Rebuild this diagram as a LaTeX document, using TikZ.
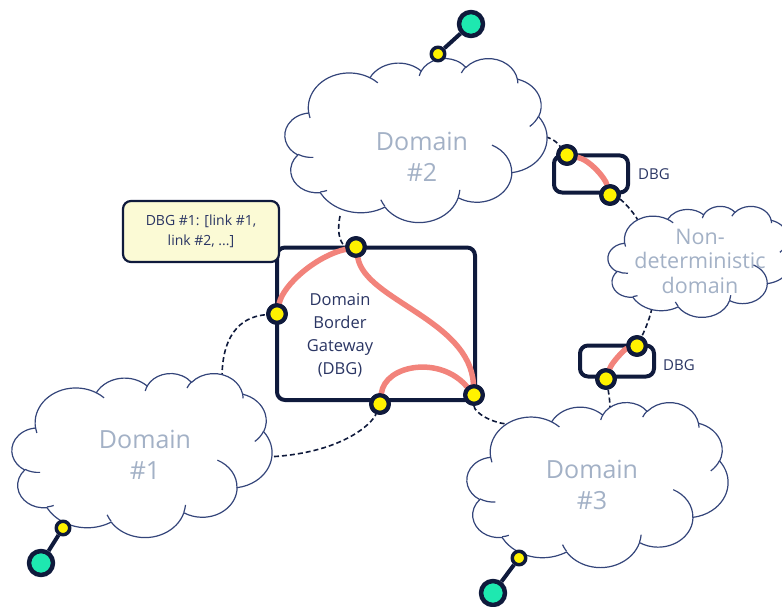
\documentclass[tikz,border=0pt]{standalone}
\usepackage{fontspec}
\setmainfont{Open Sans}
\usetikzlibrary{positioning}

\definecolor{navy}{HTML}{0F1A3C}
\definecolor{boxtext}{HTML}{2A3563}
\definecolor{dbgred}{HTML}{F2837B}
\definecolor{portyellow}{HTML}{FFF200}
\definecolor{endteal}{HTML}{1EE8B0}
\definecolor{cloudline}{HTML}{34457A}
\definecolor{cloudtext}{HTML}{A3B1C6}
\definecolor{notefill}{HTML}{FBFAD5}

% cloud outline on a 432 x 432 grid, stretched to the box given
\newcommand{\drawcloud}[3]{%
  \begin{scope}[shift={#1}, xscale=#2/432, yscale=#3/432]
    \draw[cloudedge, fill=white] (39.00,143.70)
      \foreach \rx/\ry/\st/\sw [evaluate=\st as \ta using {atan2(\rx*sin(\st),\ry*cos(\st))},
          evaluate=\st as \da using {mod(atan2(\rx*sin(\st+\sw),\ry*cos(\st+\sw))-atan2(\rx*sin(\st),\ry*cos(\st))+720,360)}]
        in {67.53/91.90/-190.4875/123.7805, 53.33/72.67/-144.1024/89.9452,
            43.65/59.45/-145.8079/99.7230, 48.57/65.95/-130.9861/117.2417,
            53.33/72.73/-78.7089/109.0269, 67.75/92.20/-46.2673/130.2690,
            57.85/78.67/0.6250/114.0333, 67.52/92.15/22.4516/115.1726,
            77.20/105.43/66.2426/75.7110, 43.60/59.18/-274.9421/146.7356,
            43.45/59.45/-246.8285/152.5189}
        { arc[start angle=\ta, delta angle=\da, x radius=\rx, y radius=\ry] } -- cycle;
    \foreach \cx/\cy/\rx/\ry/\st/\sw [evaluate=\st as \ta using {atan2(\rx*sin(\st),\ry*cos(\st))},
          evaluate=\st as \da using {mod(atan2(\rx*sin(\st+\sw),\ry*cos(\st+\sw))-atan2(\rx*sin(\st),\ry*cos(\st))+720,360)}]
      in {46.93/261.77/43.45/59.45/86.7420/26.4295, 69.28/348.99/43.60/59.18/73.6105/11.4475,
          164.78/390.90/67.52/92.15/137.6242/14.0811, 288.27/347.51/67.52/92.15/6.4533/15.9984,
          341.29/229.54/57.85/78.67/-70.2924/72.4528, 417.98/153.54/53.33/72.73/30.3180/27.7515,
          383.24/54.26/48.57/65.95/-13.7443/14.8589, 290.78/39.52/48.57/65.95/-149.1815/18.1954,
          221.41/47.20/43.65/59.45/-163.4943/17.8433, 140.00/51.92/67.53/91.90/-66.7070/12.3194,
          41.27/157.89/67.53/91.90/157.6544/11.8540}
      \draw[cloudedge] (\cx,\cy) arc[start angle=\ta, delta angle=\da, x radius=\rx, y radius=\ry];
  \end{scope}}

\begin{document}
\begin{tikzpicture}[x=1pt, y=-1pt, line join=round]
  \tikzstyle{cloudedge}=[draw=cloudline, line width=1.2pt]
  \tikzstyle{domain text}=[text=cloudtext, align=center, font=\fontsize{25}{31}\selectfont]
  \tikzstyle{gateway}=[rectangle, rounded corners=8pt, draw=navy, line width=4pt, inner sep=0pt]
  \tikzstyle{port}=[circle, fill=portyellow, draw=navy, line width=4.2pt, minimum size=17.5pt, inner sep=0pt]
  \tikzstyle{host port}=[port, line width=3.5pt, minimum size=13.5pt]
  \tikzstyle{endpoint}=[circle, fill=endteal, draw=navy, line width=4.5pt, minimum size=24pt, inner sep=0pt]
  \tikzstyle{link}=[dbgred, line width=5.5pt, line cap=round]
  \tikzstyle{peering}=[navy, line width=1.6pt, dash pattern=on 5pt off 3pt]
  \tikzstyle{access}=[navy, line width=4pt]
  \tikzstyle{annot}=[rectangle, rounded corners=8pt, fill=notefill, draw=navy, line width=2.2pt, minimum width=156pt, minimum height=61pt, align=center, text=boxtext, font=\fontsize{14}{20}\selectfont]
  \tikzstyle{tag}=[text=boxtext, font=\fontsize{15}{18}\selectfont, inner sep=0pt]

  \useasboundingbox (0,0) rectangle (782,607);

  % where the peering lines meet the clouds
  \coordinate (c2b) at (340,216);
  \coordinate (c2r) at (538,136);
  \coordinate (cndl) at (640,225);
  \coordinate (cndb) at (652,308);
  \coordinate (c3t) at (610,408);
  \coordinate (c1t) at (222,378);
  \coordinate (c1r) at (266,457);
  \coordinate (c3l) at (509,424);

  % gateways and their ports
  \node[gateway, minimum width=198pt, minimum height=152.5pt] (dbg) at (376,323.75) {};
  \node[gateway, minimum width=74pt, minimum height=37pt] (dbgA) at (591,174) {};
  \node[gateway, minimum width=74pt, minimum height=31pt] (dbgB) at (617,361) {};
  \node[port] (ptop) at (356,247) {};
  \node[port] (pleft) at (277,314) {};
  \node[port] (pbot) at (380,404) {};
  \node[port] (pcorner) at (474,395) {};
  \node[port] (pA1) at (567,155) {};
  \node[port] (pA2) at (610,195) {};
  \node[port] (pB1) at (637,346) {};
  \node[port] (pB2) at (606,379) {};

  % dashed peering lines, under the clouds
  \draw[peering] (c2b) .. controls +(-4,20) and +(-14,-2) .. (ptop);
  \draw[peering] (c2r) .. controls +(15,0) and +(-8,-10) .. (pA1);
  \draw[peering] (pA2) .. controls +(12,5) and +(-3,-10) .. (cndl);
  \draw[peering] (cndb) .. controls +(-3,14) and +(5,-10) .. (pB1);
  \draw[peering] (pB2) .. controls +(2,10) and +(0,-8) .. (c3t);
  \draw[peering] (c1t) .. controls +(0,-50) and +(-30,2) .. (pleft);
  \draw[peering] (c1r) .. controls +(75,-3) and +(-8,20) .. (pbot);
  \draw[peering] (pcorner) .. controls +(0,18) and +(-15,0) .. (c3l);

  % domains
  \drawcloud{(285,58)}{262}{164}
  \drawcloud{(12,373)}{260}{164}
  \drawcloud{(467,402)}{261}{165}
  \drawcloud{(608,206)}{184}{111}
  \node[domain text] (d2) at (422,157) {Domain\\\#2};
  \node[domain text] (d1) at (145,455) {Domain\\\#1};
  \node[domain text] (d3) at (592,485) {Domain\\\#3};
  \node[domain text, font=\fontsize{21.5}{24.5}\selectfont] (nd) at (700,261) {Non-\\deterministic\\domain};

  % links through the gateways
  \draw[link] (ptop) .. controls +(-40,9) and +(6,-29) .. (pleft);
  \draw[link] (ptop) .. controls (365,300) and (470,320) .. (pcorner);
  \draw[link] (pbot) .. controls (385,365) and (440,355) .. (pcorner);
  \draw[link] (pA1) .. controls (590,160) and (605,178) .. (pA2);
  \draw[link] (pB2) .. controls (612,362) and (625,349) .. (pB1);
  \foreach \p in {ptop,pleft,pbot,pcorner,pA1,pA2,pB1,pB2}
    \node[port] at (\p) {};

  \node[gateway, draw=none, text=boxtext, align=center, font=\fontsize{16.5}{23}\selectfont] (dbgtxt) at (340,335) {Domain\\Border\\Gateway\\(DBG)};
  \node[tag, right=8pt of dbgA] (tagA) {DBG};
  \node[tag, right=7pt of dbgB, yshift=-4pt] (tagB) {DBG};

  % hosts hanging off the domains
  \node[host port] (q2) at (438,54) {};
  \node[host port] (q1) at (63,528) {};
  \node[host port] (q3) at (519,558) {};
  \node[endpoint] (e2) at (471,24) {};
  \node[endpoint] (e1) at (41,563) {};
  \node[endpoint] (e3) at (493,593) {};
  \draw[access] (q2) -- (e2);
  \draw[access] (q1) -- (e1);
  \draw[access] (q3) -- (e3);

  \node[annot] (note) at (201,231.5) {DBG \#1: [link \#1,\\link \#2, ...]};
\end{tikzpicture}
\end{document}
